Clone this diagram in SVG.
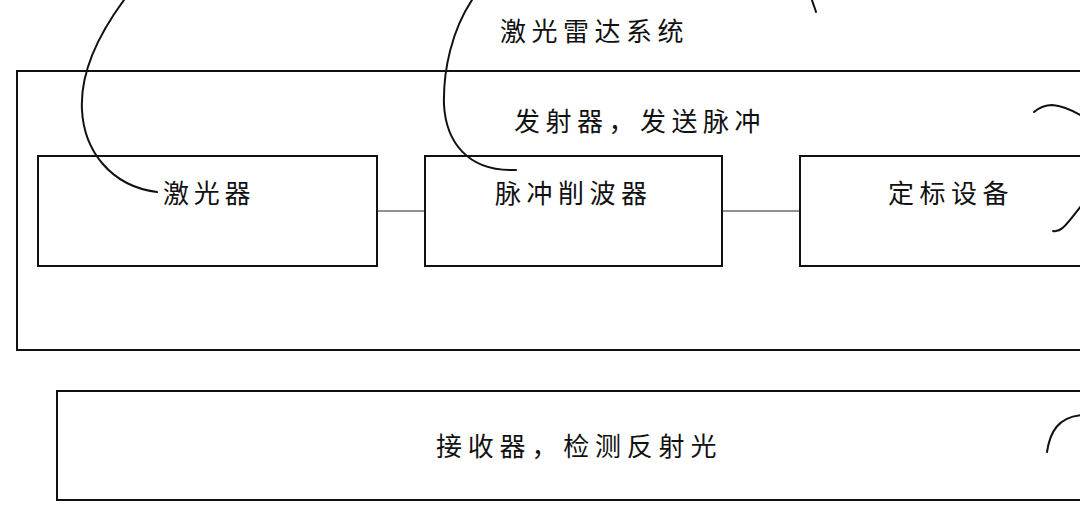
<svg xmlns="http://www.w3.org/2000/svg" width="1080" height="519" viewBox="0 0 1080 519">
<style>
.box{fill:none;stroke:#111;stroke-width:2}
.conn{fill:none;stroke:#222;stroke-width:1}
.lead{fill:none;stroke:#111;stroke-width:2;stroke-linecap:round}
.lbl{font-family:"Noto Sans CJK SC","Noto Sans CJK TC",sans-serif;font-size:26px;fill:#111;letter-spacing:5.5px}
</style>
<rect width="1080" height="519" fill="#fff"/>
<g id="lidar-system">
<rect class="box" x="17" y="71" width="1080" height="279"/>
<text class="lbl" x="500" y="41">激光雷达系统</text>
<text class="lbl" x="514" y="131">发射器，发送脉冲</text>
</g>
<g id="laser">
<rect class="box" x="38" y="156" width="339" height="110"/>
<text class="lbl" x="163" y="203" style="letter-spacing:4.7px">激光器</text>
</g>
<g id="pulse-clipper">
<rect class="box" x="425" y="156" width="297" height="110"/>
<text class="lbl" x="495" y="203">脉冲削波器</text>
</g>
<g id="calibration">
<rect class="box" x="800" y="156" width="300" height="110"/>
<text class="lbl" x="888" y="203">定标设备</text>
</g>
<g id="receiver">
<rect class="box" x="57" y="391" width="1040" height="109"/>
<text class="lbl" x="436" y="456" style="letter-spacing:5.8px">接收器，检测反射光</text>
</g>
<g id="connectors">
<line class="conn" x1="377" y1="211" x2="425" y2="211"/>
<line class="conn" x1="722" y1="211" x2="800" y2="211"/>
<path class="lead" d="M124,0 C96,38 80,75 82,110 C84,150 110,186 157,192"/>
<path class="lead" d="M472,0 C452,30 443,70 444,105 C446,140 466,172 516,170"/>
<path class="lead" d="M812,0 C813,4 815,8 816,12"/>
<path class="lead" d="M1034,112 C1040,107 1046,105 1052,105 C1062,106 1072,110 1082,116"/>
<path class="lead" d="M1053,231 C1062,233 1068,222 1082,205"/>
<path class="lead" d="M1047,452 C1050,432 1058,417 1082,415"/>
</g>
</svg>
